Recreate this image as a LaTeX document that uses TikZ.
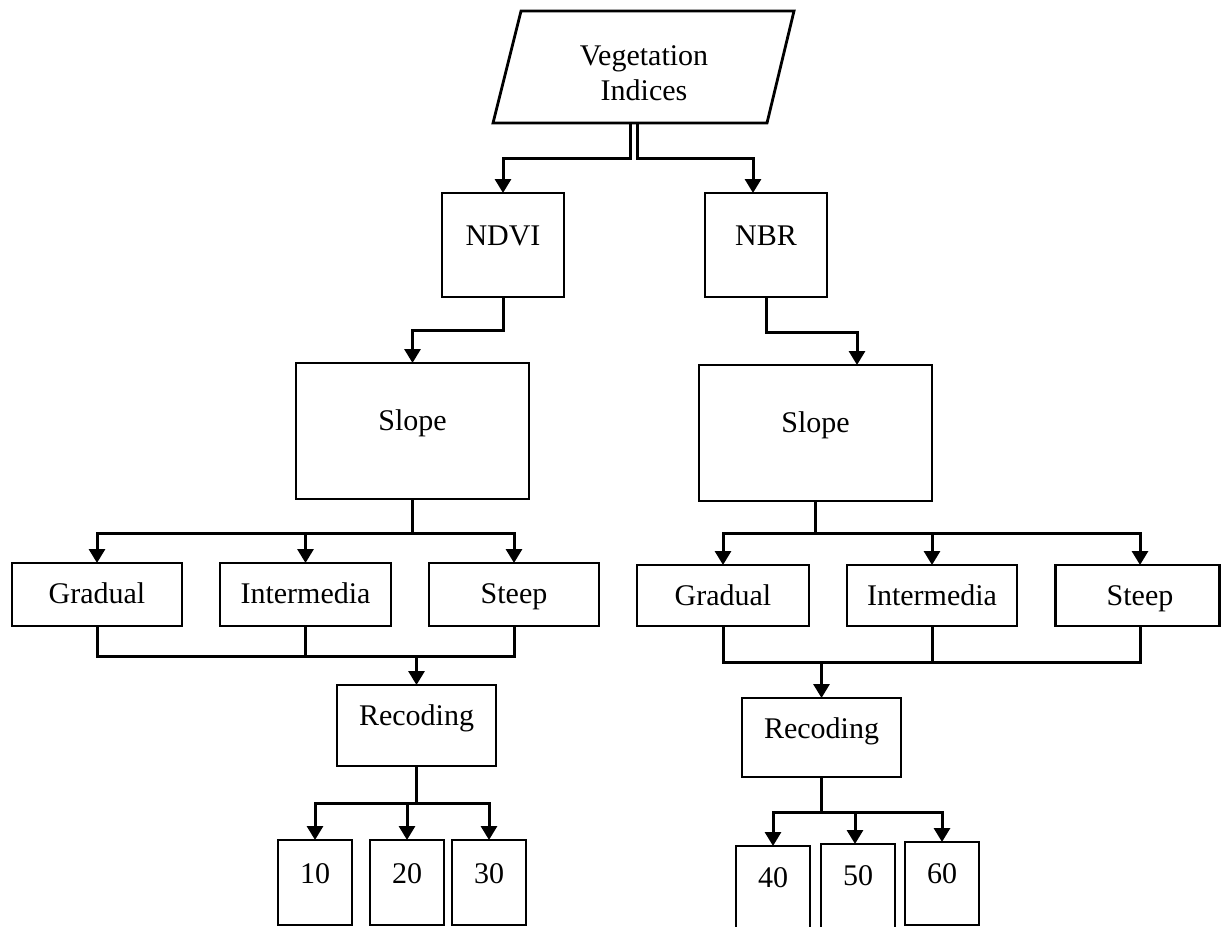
\documentclass[tikz,border=0pt]{standalone}
\usepackage{fontspec}
\setmainfont{Liberation Serif}
\usetikzlibrary{arrows.meta}
\begin{document}
\begin{tikzpicture}[x=1pt,y=-1pt,
  box/.style={draw, line width=2.8pt, rectangle, inner sep=0pt, outer sep=0pt},
  lbl/.style={anchor=base, inner sep=0pt, font=\fontsize{30}{35}\selectfont},
  wire/.style={line width=3pt},
  arr/.style={wire, -{Triangle[length=14pt,width=16pt]}}]
\useasboundingbox (0,0) rectangle (1222,926);

% input parallelogram
\draw[line width=2.8pt] (521,11) -- (794,11) -- (767,123) -- (493,123) -- cycle;
\node[lbl] (veg) at (644,65) {Vegetation};
\node[lbl] (vegb) at (644,100) {Indices};
\coordinate (vegL) at (630,123);
\coordinate (vegR) at (637,123);

% index boxes
\node[box, minimum width=122pt, minimum height=104pt] (ndvi) at (503,245) {};
\node[box, minimum width=122pt, minimum height=104pt] (nbr) at (766,245) {};
\node[lbl] (tndvi) at (503,245) {NDVI};
\node[lbl] (tnbr) at (766,245) {NBR};

% slope boxes
\node[box, minimum width=233pt, minimum height=136pt] (slopeL) at (412.5,431) {};
\node[box, minimum width=233pt, minimum height=136pt] (slopeR) at (815.5,433) {};
\node[lbl] (tslopeL) at (412.5,430) {Slope};
\node[lbl] (tslopeR) at (815.5,432) {Slope};

% slope classes, left
\node[box, minimum width=170pt, minimum height=63pt] (gradL) at (97,594.5) {};
\node[box, minimum width=171pt, minimum height=63pt] (intL) at (305.5,594.5) {};
\node[box, minimum width=170pt, minimum height=63pt] (steepL) at (514,594.5) {};
\node[lbl] (tgradL) at (97,603) {Gradual};
\node[lbl] (tintL) at (305.5,603) {Intermedia};
\node[lbl] (tsteepL) at (514,603) {Steep};

% slope classes, right
\node[box, minimum width=172pt, minimum height=61pt] (gradR) at (723,595.5) {};
\node[box, minimum width=170pt, minimum height=61pt] (intR) at (932,595.5) {};
\node[box, minimum width=164pt, minimum height=61pt] (steepR) at (1137.5,595.5) {};
\node[lbl] (tgradR) at (723,605) {Gradual};
\node[lbl] (tintR) at (932,605) {Intermedia};
\node[lbl] (tsteepR) at (1140,605) {Steep};

% recoding boxes
\node[box, minimum width=159pt, minimum height=81pt] (recL) at (416.5,725.5) {};
\node[box, minimum width=159pt, minimum height=79pt] (recR) at (821.5,737.5) {};
\node[lbl] (trecL) at (416.5,725) {Recoding};
\node[lbl] (trecR) at (821.5,738) {Recoding};

% class codes
\node[box, minimum width=74pt, minimum height=85pt] (b10) at (315,882.5) {};
\node[box, minimum width=74pt, minimum height=85pt] (b20) at (407,882.5) {};
\node[box, minimum width=74pt, minimum height=85pt] (b30) at (489,882.5) {};
\node[box, minimum width=74pt, minimum height=86pt] (b40) at (773,889) {};
\node[box, minimum width=74pt, minimum height=88pt] (b50) at (858,888) {};
\node[box, minimum width=74pt, minimum height=83pt] (b60) at (942,883.5) {};
\node[lbl] (t10) at (315,883) {10};
\node[lbl] (t20) at (407,883) {20};
\node[lbl] (t30) at (489,883) {30};
\node[lbl] (t40) at (773,887) {40};
\node[lbl] (t50) at (858,885) {50};
\node[lbl] (t60) at (942,883) {60};

% connectors: indices
\draw[arr] (vegL) -- ++(0,35) -| (ndvi.north);
\draw[arr] (vegR) -- ++(0,35) -| ([xshift=-13pt]nbr.north);
\draw[arr] (ndvi.south) -- ++(0,33) -| (slopeL.north);
\draw[arr] (nbr.south) -- ++(0,35) -| ([xshift=41.5pt]slopeR.north);

% connectors: left branch
\draw[wire] (slopeL.south) -- ++(0,34) coordinate (sL);
\draw[arr] (sL) -| (gradL.north);
\draw[arr] (sL) -| (intL.north);
\draw[arr] (sL) -| (steepL.north);
\draw[wire] (gradL.south) -- ++(0,30) -| (steepL.south);
\draw[wire] (intL.south) -- ++(0,30);
\path (gradL.south) ++(0,30) coordinate (jL);
\draw[arr] (jL -| recL.north) -- (recL.north);
\draw[wire] (recL.south) -- ++(0,37) coordinate (kL);
\draw[arr] (kL) -| (b10.north);
\draw[arr] (kL) -| (b20.north);
\draw[arr] (kL) -| (b30.north);

% connectors: right branch
\draw[wire] (slopeR.south) -- ++(0,32) coordinate (sR);
\draw[arr] (sR) -| (gradR.north);
\draw[arr] (sR) -| (intR.north);
\draw[arr] (sR) -| ([xshift=2.5pt]steepR.north);
\draw[wire] (gradR.south) -- ++(0,36) -| ([xshift=2.5pt]steepR.south);
\draw[wire] (intR.south) -- ++(0,36);
\path (gradR.south) ++(0,36) coordinate (jR);
\draw[arr] (jR -| recR.north) -- (recR.north);
\draw[wire] (recR.south) -- ++(0,35) coordinate (kR);
\draw[arr] (kR) -| (b40.north);
\draw[arr] (kR) -| ([xshift=-3pt]b50.north);
\draw[arr] (kR) -| (b60.north);
\end{tikzpicture}
\end{document}
